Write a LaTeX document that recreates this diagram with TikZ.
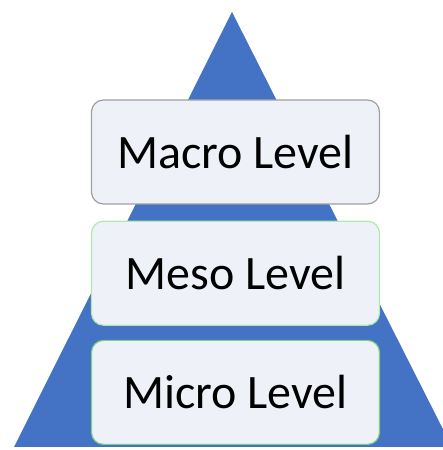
\documentclass[tikz,border=0pt]{standalone}
\usepackage{fontspec}
\setmainfont{Carlito}
\usetikzlibrary{positioning}

\definecolor{pyrblue}{RGB}{68,114,196}
\definecolor{boxfill}{RGB}{238,242,248}

\tikzset{
    levelbox/.style={draw, line width=1.2pt, fill=boxfill, rounded corners=12pt,
        minimum width=288pt, minimum height=104pt, inner sep=0pt,
        font=\fontsize{48}{58}\selectfont}
}

\begin{document}
\begin{tikzpicture}[x=1pt, y=1pt]

    \useasboundingbox (0, 0) rectangle (443, 450);
    \clip (0, 0) rectangle (443, 450);

    \coordinate (top) at (232, 438);
    \coordinate (left) at (14, 3);
    \coordinate (right) at (452, 3);

    \fill[pyrblue] (top) -- (right) -- (left) -- cycle;

    \node[levelbox, draw=gray!75] (macro) at (235.5, 298) {Macro Level};
    \node[levelbox, draw=gray!45!green!40, below=16pt of macro] (meso) {Meso Level};
    \node[levelbox, draw=green!45!gray!70, below=14pt of meso] (micro) {Micro Level};

\end{tikzpicture}
\end{document}
